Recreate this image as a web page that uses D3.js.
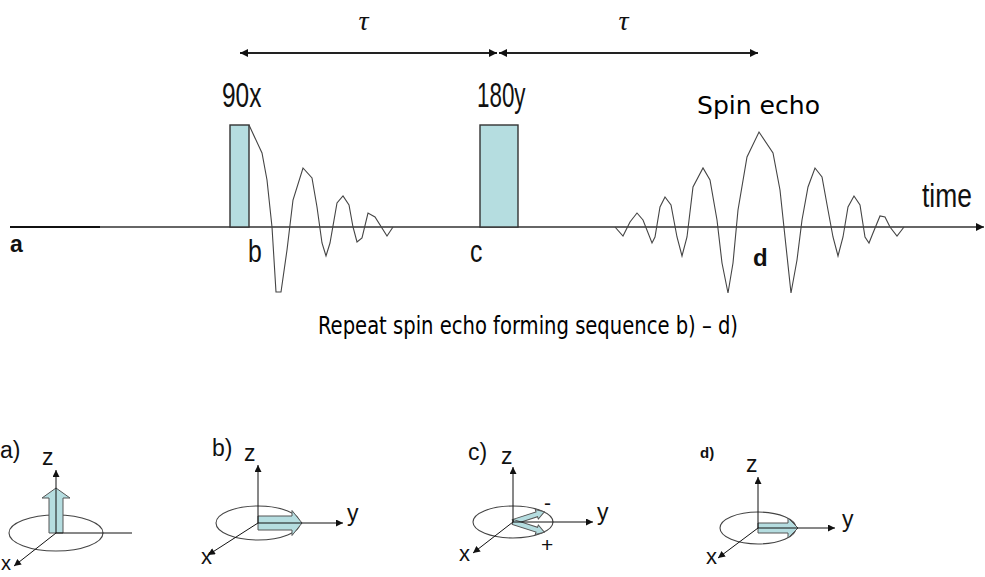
<!DOCTYPE html>
<html><head><meta charset="utf-8">
<script src="https://cdn.jsdelivr.net/npm/d3@7"></script>
<style>html,body{margin:0;padding:0;background:#fff;overflow:hidden}</style>
</head><body>
<svg id="c" width="985" height="577"></svg>
<script>
// ---------- data ----------
const pulseNames = ["90x", "180y"];
const pulseStart = [230, 480];
const pulseEnd = [249, 518];
const pulseAmp = 102;

const fidT = [249,262,267,272,276,281,287,293,303,312,317,322,326,330,337,343,349,353,357,362,368,375,387,393];
const fidA = [102,74,47,0,-65,-65,-23,27,59,49,20,-16,-29,-16,24,31,22,0,-15,-11,14,10,-9,0];

const echoT = [615,623,630,637,643,652,655,660,665,671,677,682,687,693,703,710,717,722,728,733,738,747,759,773,780,785,791,797,802,808,815,822,828,833,838,843,848,854,860,865,869,873,880,885,890,897,904];
const echoA = [0,-9,5,14,7,-16,-10,20,30,22,-10,-29,-10,40,59,47,7,-36,-66,-36,17,70,95,74,37,-10,-66,-33,7,40,59,50,17,-10,-29,-10,20,31,22,-10,-16,-6,11,10,0,-9,0];

const tauStart = [240, 499];
const tauEnd = [497, 758];
const tauLabel = "τ";

const pointLabels = ["a", "b", "c", "d"];
const pointTimes = [10, 248, 470, 753];

const panelLabels = ["a)", "b)", "c)", "d)"];
// magnetization vector directions (degrees, 90 = +z, 0 = +y) per panel
const vecAngles = [[90], [0], [18, -18], [0]];
const vecLengths = [45, 44, 33, 40];
const caption = "Repeat spin echo forming sequence b) \u2013 d)";

// ---------- layout ----------
const svg = d3.select("#c");
const x = d3.scaleLinear().domain([0, 985]).range([0, 985]);
const y = d3.scaleLinear().domain([-100, 100]).range([327, 127]);
const ink = "#333";
const cyan = "#b5dde0";

const defs = svg.append("defs");
function marker(id, w, h) {
  defs.append("marker").attr("id", id).attr("viewBox", "0 0 10 10")
    .attr("refX", 10).attr("refY", 5).attr("markerUnits", "userSpaceOnUse")
    .attr("markerWidth", w).attr("markerHeight", h).attr("orient", "auto-start-reverse")
    .append("path").attr("d", "M0,0 L10,5 L0,10 z").attr("fill", "#111");
}
marker("ah", 9, 8);
marker("ahs", 8, 7);

// time axis
svg.append("line").attr("x1", x(10)).attr("x2", x(984)).attr("y1", y(0)).attr("y2", y(0))
  .attr("stroke", ink).attr("stroke-width", 1.6).attr("marker-end", "url(#ah)");
svg.append("line").attr("x1", x(10)).attr("x2", x(100)).attr("y1", y(0)).attr("y2", y(0))
  .attr("stroke", "#111").attr("stroke-width", 2.2);

// pulses
svg.selectAll("rect.pulse").data(pulseNames).join("rect").attr("class", "pulse")
  .attr("x", (d, i) => x(pulseStart[i])).attr("width", (d, i) => x(pulseEnd[i]) - x(pulseStart[i]))
  .attr("y", y(pulseAmp)).attr("height", y(0) - y(pulseAmp))
  .attr("fill", cyan).attr("stroke", ink).attr("stroke-width", 1.4);

// signals
const line = d3.line().x(d => x(d[0])).y(d => y(d[1]));
svg.append("path").attr("d", line(fidT.map((t, i) => [t, fidA[i]])))
  .attr("fill", "none").attr("stroke", "#444").attr("stroke-width", 1.1);
svg.append("path").attr("d", line(echoT.map((t, i) => [t, echoA[i]])))
  .attr("fill", "none").attr("stroke", "#444").attr("stroke-width", 1.1);

// tau arrows
tauStart.forEach((s, i) => {
  svg.append("line").attr("x1", x(s)).attr("x2", x(tauEnd[i])).attr("y1", 53).attr("y2", 53)
    .attr("stroke", "#222").attr("stroke-width", 1.8)
    .attr("marker-start", "url(#ah)").attr("marker-end", "url(#ah)");
  svg.append("text").attr("x", x((s + tauEnd[i]) / 2) - 5).attr("y", 30)
    .attr("text-anchor", "middle").attr("font-family", "Liberation Serif, serif")
    .attr("font-style", "italic").attr("font-size", 28).attr("fill", "#111").text(tauLabel);
});

// narrow labels
function narrow(txt, px, py, size, sx) {
  svg.append("text").attr("transform", `translate(${px},${py}) scale(${sx},1)`)
    .attr("font-family", "Liberation Sans, Arial, sans-serif").attr("font-size", size)
    .attr("fill", "#111").text(txt);
}
narrow(pulseNames[0], x(pulseStart[0]) - 8, 107, 35, 0.7);
narrow(pulseNames[1], x(pulseStart[1]) - 3, 107, 35, 0.64);
narrow("time", 922, 207, 33, 0.8);
narrow(pointLabels[1], x(pointTimes[1]), 262, 31, 0.8);
narrow(pointLabels[2], x(pointTimes[2]), 262, 31, 0.8);
[0, 3].forEach(i => {
  svg.append("text").attr("x", x(pointTimes[i])).attr("y", i === 0 ? 252 : 266)
    .attr("font-family", "Liberation Sans, Arial, sans-serif").attr("font-weight", "bold")
    .attr("font-size", i === 0 ? 23 : 24).attr("fill", "#111").text(pointLabels[i]);
});

svg.append("text").attr("x", 697).attr("y", 114).attr("textLength", 123).attr("lengthAdjust", "spacingAndGlyphs")
  .attr("font-family", "DejaVu Sans Condensed, DejaVu Sans, sans-serif").attr("font-size", 25)
  .attr("fill", "#000").text("Spin echo");
svg.append("text").attr("x", 318).attr("y", 334).attr("textLength", 420).attr("lengthAdjust", "spacingAndGlyphs")
  .attr("font-family", "DejaVu Sans Condensed, DejaVu Sans, sans-serif").attr("font-size", 24.5)
  .attr("fill", "#000").text(caption);

// ---------- vector panels ----------
const panels = [
  {ox: 56, oy: 533, erx: 47, ery: 18, zTop: 470, yEnd: 132, yArrow: false, xEnd: [14, 566],
   shaft: 14, head: 28, headL: 10, lab: [0, 458, 23, "normal"], zl: [42, 465], yl: null, xl: [1, 570]},
  {ox: 258, oy: 523, erx: 42, ery: 17, zTop: 465, yEnd: 343, yArrow: true, xEnd: [208, 555],
   shaft: 14, head: 25, headL: 10, lab: [212, 456, 23, "normal"], zl: [244, 461], yl: [347, 521], xl: [201, 564]},
  {ox: 513, oy: 522, erx: 40, ery: 16, zTop: 467, yEnd: 593, yArrow: true, xEnd: [473, 553],
   shaft: 5, head: 10, headL: 8, lab: [468, 460, 23, "normal"], zl: [501, 464], yl: [597, 520], xl: [459, 561]},
  {ox: 758, oy: 528, erx: 38, ery: 16, zTop: 477, yEnd: 835, yArrow: true, xEnd: [718, 558],
   shaft: 10, head: 20, headL: 10, lab: [700, 458, 15, "bold"], zl: [746, 472], yl: [842, 527], xl: [706, 564]}
];

function blockArrow(len, sw, hw, hl) {
  const s = sw / 2, h = hw / 2, b = len - hl;
  return [[0, -s], [b, -s], [b, -h], [len, 0], [b, h], [b, s], [0, s]];
}

panels.forEach((p, i) => {
  const g = svg.append("g");
  g.append("ellipse").attr("cx", p.ox).attr("cy", p.oy).attr("rx", p.erx).attr("ry", p.ery)
    .attr("fill", "none").attr("stroke", "#444").attr("stroke-width", 1.1);
  vecAngles[i].forEach(a => {
    const pts = blockArrow(vecLengths[i], p.shaft, p.head, p.headL);
    g.append("polygon").attr("points", pts.map(q => q.join(",")).join(" "))
      .attr("transform", `translate(${p.ox},${p.oy}) rotate(${-a})`)
      .attr("fill", cyan).attr("stroke", "#555").attr("stroke-width", 1);
  });
  g.append("line").attr("x1", p.ox).attr("y1", p.oy).attr("x2", p.ox).attr("y2", p.zTop)
    .attr("stroke", "#111").attr("stroke-width", 1).attr("marker-end", "url(#ahs)");
  const yl = g.append("line").attr("x1", p.ox).attr("y1", p.oy).attr("x2", p.yEnd).attr("y2", p.oy)
    .attr("stroke", "#111").attr("stroke-width", 1);
  if (p.yArrow) yl.attr("marker-end", "url(#ahs)");
  g.append("line").attr("x1", p.ox).attr("y1", p.oy).attr("x2", p.xEnd[0]).attr("y2", p.xEnd[1])
    .attr("stroke", "#111").attr("stroke-width", 1).attr("marker-end", "url(#ahs)");
  const t = (tx, px, py, size, w) => g.append("text").attr("x", px).attr("y", py)
    .attr("font-family", "Liberation Sans, Arial, sans-serif").attr("font-size", size)
    .attr("font-weight", w || "normal").attr("fill", "#111").text(tx);
  t(panelLabels[i], p.lab[0], p.lab[1], p.lab[2], p.lab[3]);
  t("z", p.zl[0], p.zl[1], 23);
  if (p.yl) t("y", p.yl[0], p.yl[1], 23);
  t("x", p.xl[0], p.xl[1], i === 0 ? 20 : 22);
  if (i === 2) { t("-", 544, 510, 21); t("+", 541, 552, 21); }
});
</script>
</body></html>
